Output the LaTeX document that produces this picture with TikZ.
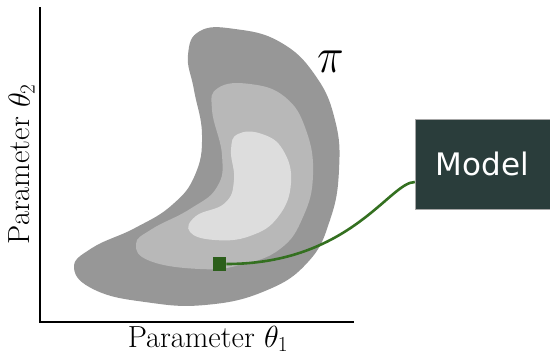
\RequirePackage{fix-cm}
\documentclass[tikz,border=0pt]{standalone}
\usepackage{fontspec}
\newfontfamily\boxfont{DejaVu Sans}

\definecolor{levelone}{RGB}{151,151,151}
\definecolor{leveltwo}{RGB}{184,184,184}
\definecolor{levelthree}{RGB}{221,221,221}
\definecolor{modelbg}{RGB}{42,61,59}
\definecolor{linkgreen}{RGB}{52,112,32}

\begin{document}
\begin{tikzpicture}[
  x=1pt, y=-1pt,
  level/.style={draw=none, smooth cycle, tension=0.75},
  axislabel/.style={font=\fontsize{30.5}{36}\selectfont, anchor=base, inner sep=0pt},
  modelbox/.style={fill=modelbg, draw=gray!70, line width=0.4pt, minimum width=135pt, minimum height=90pt,
                   inner sep=0pt, text=white, font=\boxfont\fontsize{31}{37}\selectfont},
  sample/.style={fill=linkgreen!85!black, minimum size=13.5pt, inner sep=0pt}
]
\useasboundingbox (0,0) rectangle (550,357);

% Density levels of pi
\fill[levelone] plot[level] coordinates {
  (200,31) (235,29) (280,42) (315,75) (335,120) (339,170) (330,220) (308,262)
  (265,291) (205,305) (145,302) (95,290) (74,268) (92,248) (135,228) (172,205)
  (195,175) (202,135) (194,90) (188,55)};
\fill[leveltwo] plot[level] coordinates {
  (218,88) (250,84) (285,97) (306,130) (313,175) (303,217) (280,249) (240,265)
  (200,269) (150,261) (136,244) (152,229) (190,209) (217,187) (222,155) (212,110)};
\fill[levelthree] plot[level] coordinates {
  (238,134) (262,134) (283,150) (291,183) (278,217) (250,236) (215,240) (190,232)
  (196,216) (225,203) (234,180) (231,150)};
\node[font=\fontsize{50}{60}\selectfont, xscale=0.9] (pi) at (331,62) {$\pi$};

% Axes
\draw[line width=2.4pt] (40,7) -- (40,322) -- (354,322);
\node[axislabel] (xlabel) at (208,347) {Parameter $\theta_1$};
\node[axislabel, rotate=90] (ylabel) at (30,164) {Parameter $\theta_2$};

% Sample point and model
\node[modelbox] (model) at (482.5,164) {Model};
\node[sample] (point) at (219.5,264) {};
\draw[linkgreen, line width=2.6pt] (point.east) .. controls +(124,0) and +(-25,0) .. ([yshift=-18pt]model.west);

\end{tikzpicture}
\end{document}
